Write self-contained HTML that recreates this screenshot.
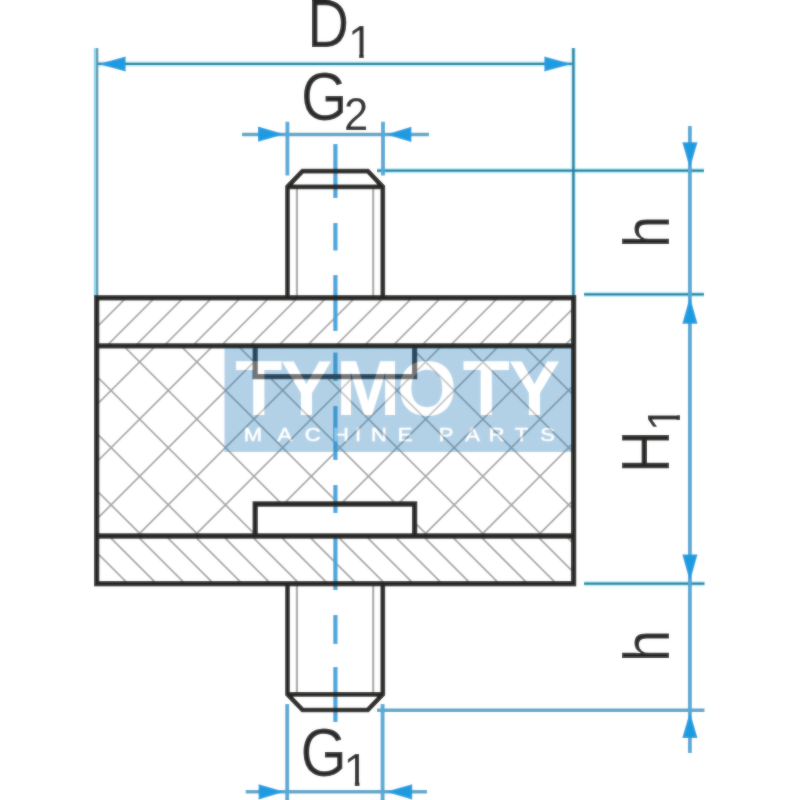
<!DOCTYPE html>
<html lang="en">
<head>
<meta charset="utf-8">
<title>D1 G2 H1 h G1 - TYMOTY machine parts</title>
<style>
html,body{margin:0;padding:0;background:#fff;}
body{width:800px;height:800px;overflow:hidden;font-family:"Liberation Sans",sans-serif;}
svg{display:block;will-change:transform;}
text{font-family:"Liberation Sans",sans-serif;}
</style>
</head>
<body>
<svg width="800" height="800" viewBox="0 0 800 800">
<defs>
<clipPath id="cTop"><rect x="96.7" y="297.8" width="476.90000000000003" height="48.0"/></clipPath>
<clipPath id="cBot"><rect x="96.7" y="536.0" width="476.90000000000003" height="47.700000000000045"/></clipPath>
<clipPath id="cRub"><path d="M96.7 345.8H255.2V376.6H414.6V345.8H573.6V536.0H414.6V504.0H255.2V536.0H96.7Z"/></clipPath>
<clipPath id="one"><path d="M0 -40H30V-5.5H16.1V3H11.4V-5.5H0Z"/></clipPath>
<filter id="soft" filterUnits="userSpaceOnUse" x="0" y="0" width="800" height="800"><feGaussianBlur stdDeviation="1"/></filter>
</defs>
<g id="art">
<rect width="800" height="800" fill="#ffffff"/>
<!-- hatching -->
<g fill="none" stroke="#a8a8a8" stroke-width="1.8">
<path clip-path="url(#cTop)" d="M-7.70 345.80L40.30 297.80M20.90 345.80L68.90 297.80M49.50 345.80L97.50 297.80M78.10 345.80L126.10 297.80M106.70 345.80L154.70 297.80M135.30 345.80L183.30 297.80M163.90 345.80L211.90 297.80M192.50 345.80L240.50 297.80M221.10 345.80L269.10 297.80M249.70 345.80L297.70 297.80M278.30 345.80L326.30 297.80M306.90 345.80L354.90 297.80M335.50 345.80L383.50 297.80M364.10 345.80L412.10 297.80M392.70 345.80L440.70 297.80M421.30 345.80L469.30 297.80M449.90 345.80L497.90 297.80M478.50 345.80L526.50 297.80M507.10 345.80L555.10 297.80M535.70 345.80L583.70 297.80M564.30 345.80L612.30 297.80M592.90 345.80L640.90 297.80M621.50 345.80L669.50 297.80"/>
<path clip-path="url(#cBot)" d="M622.92 536.00L670.62 583.70M594.36 536.00L642.06 583.70M565.80 536.00L613.50 583.70M537.24 536.00L584.94 583.70M508.68 536.00L556.38 583.70M480.12 536.00L527.82 583.70M451.56 536.00L499.26 583.70M423.00 536.00L470.70 583.70M394.44 536.00L442.14 583.70M365.88 536.00L413.58 583.70M337.32 536.00L385.02 583.70M308.76 536.00L356.46 583.70M280.20 536.00L327.90 583.70M251.64 536.00L299.34 583.70M223.08 536.00L270.78 583.70M194.52 536.00L242.22 583.70M165.96 536.00L213.66 583.70M137.40 536.00L185.10 583.70M108.84 536.00L156.54 583.70M80.28 536.00L127.98 583.70M51.72 536.00L99.42 583.70M23.16 536.00L70.86 583.70M-5.40 536.00L42.30 583.70"/>
<path clip-path="url(#cRub)" d="M-206.10 536.00L-15.90 345.80M-148.90 536.00L41.30 345.80M-91.70 536.00L98.50 345.80M-34.50 536.00L155.70 345.80M22.70 536.00L212.90 345.80M79.90 536.00L270.10 345.80M137.10 536.00L327.30 345.80M194.30 536.00L384.50 345.80M251.50 536.00L441.70 345.80M308.70 536.00L498.90 345.80M365.90 536.00L556.10 345.80M423.10 536.00L613.30 345.80M480.30 536.00L670.50 345.80M537.50 536.00L727.70 345.80M594.70 536.00L784.90 345.80M651.90 536.00L842.10 345.80M638.40 345.80L828.60 536.00M581.20 345.80L771.40 536.00M524.00 345.80L714.20 536.00M466.80 345.80L657.00 536.00M409.60 345.80L599.80 536.00M352.40 345.80L542.60 536.00M295.20 345.80L485.40 536.00M238.00 345.80L428.20 536.00M180.80 345.80L371.00 536.00M123.60 345.80L313.80 536.00M66.40 345.80L256.60 536.00M9.20 345.80L199.40 536.00M-48.00 345.80L142.20 536.00M-105.20 345.80L85.00 536.00M-162.40 345.80L27.80 536.00"/>
</g>
<!-- thread lines -->
<g fill="none" stroke="#a6a6a6" stroke-width="2.1">
<path d="M296.9 187V296M373.2 187V296M296.9 584V694M373.2 584V694"/>
</g>
<!-- dimension lines -->
<g fill="none" stroke="#bdf0fb" stroke-width="5.2">
<path d="M98 63.9H572M377 170.6H704M584 294.4H704M584 583.6H704.5M573.4 48V296"/>
</g>
<g fill="none" stroke="#1f7b9b" stroke-width="2.4">
<path d="M98 63.9H572M377 170.6H704M584 294.4H704M584 583.6H704.5M573.4 48V296"/>
</g>
<g fill="none" stroke="#5aa4c8" stroke-width="3.6">
<path d="M242 134.5H429M245.7 791.8H427M377 710.3H704.5"/>
</g>
<g fill="none" stroke="#55a8d6" stroke-width="3.9">
<path stroke="#8dd6f2" stroke-width="2.4" d="M95 48V296"/><path stroke="#5a98b0" stroke-width="2.3" d="M97.2 48V296"/>
<path d="M287.4 121.7V175.6M383 121.7V175.6"/>
<path d="M287.2 704V800M382.6 704V800"/>
<path d="M689.9 126V753"/>
</g>
<g fill="none" stroke="#45a6dd" stroke-width="4.3">
<path d="M335.4 144V198M335.4 223V250.5M335.4 275V331M335.4 352.5V381M335.4 406V460M335.4 485V513M335.4 537.5V590M335.4 615V644M335.4 667V722"/>
</g>
<g fill="#1c9be0" stroke="none"><polygon points="98.60,64.00 125.60,56.40 125.60,71.60"/><polygon points="571.40,64.00 544.40,71.60 544.40,56.40"/><polygon points="284.40,134.20 258.00,141.80 258.00,126.60"/><polygon points="386.00,134.40 411.40,126.80 411.40,142.00"/><polygon points="284.40,791.80 258.60,799.40 258.60,784.20"/><polygon points="385.60,791.80 412.20,784.20 412.20,799.40"/><polygon points="689.90,168.60 682.30,142.20 697.50,142.20"/><polygon points="689.90,296.80 697.50,323.80 682.30,323.80"/><polygon points="689.90,581.60 682.30,554.60 697.50,554.60"/><polygon points="689.90,712.00 697.50,738.00 682.30,738.00"/></g>
<!-- outlines -->
<g fill="none" stroke="#272625" stroke-width="5.3" stroke-linejoin="miter">
<rect x="96.7" y="297.8" width="476.90000000000003" height="285.90000000000003"/>
<path d="M96.7 345.8H573.6M96.7 536.0H573.6"/>
<path d="M255.2 345.8V376.6H414.6V345.8"/>
<path d="M255.2 536.0V504.0H414.6V536.0"/>
<path stroke-width="4.7" d="M287.5 297.8V186.8L302.5 171.1H367.8L382.8 186.8V297.8M287.5 186.8H382.8"/>
<path stroke-width="4.7" d="M287.5 583.7V694.4L302.5 710H367.8L382.8 694.4V583.7M287.5 694.4H382.8"/>
</g>
<!-- watermark -->
<g opacity="0.36">
<rect x="224.5" y="348" width="347" height="104" fill="#2c81bd"/>
<text x="235.2 280.8 335.9 397 462.7 508.7" y="414.5" font-size="77" font-weight="700" fill="#ffffff">TYMOTY</text>
<text transform="scale(1.22 1)" x="199.8 227.4 249.9 273 290.9 304.2 326 342 359.7 381.3 400.6 422 442.8" y="441.4" font-size="18" fill="#ffffff" stroke="#ffffff" stroke-width="0.5">MACHINE PARTS</text>
</g>
<!-- labels -->
<g fill="#272625">
<text transform="translate(307.2 46.8) scale(0.84 1)" font-size="69">D</text>
<text transform="translate(347.9 58.3) scale(0.985 1)" font-size="46.5" clip-path="url(#one)">1</text>
<text transform="translate(301 119.5) scale(0.864 1)" font-size="69">G</text>
<text transform="translate(344 129.8) scale(0.95 1)" font-size="46">2</text>
<text transform="translate(300.5 775.5) scale(0.861 1)" font-size="69">G</text>
<text transform="translate(343.6 786.4) scale(0.985 1)" font-size="46.5" clip-path="url(#one)">1</text>
<text transform="translate(668.8 248) rotate(-90) scale(0.9 1)" font-size="64.5">h</text>
<text transform="translate(668.8 662) rotate(-90) scale(0.9 1)" font-size="64.5">h</text>
<text transform="translate(668.8 472.9) rotate(-90) scale(0.87 1)" font-size="68">H</text>
<text transform="translate(680.3 431.3) rotate(-90)" font-size="46.5" clip-path="url(#one)">1</text>
</g>
</g>
<use href="#art" filter="url(#soft)" opacity="0.5"/>
</svg>
</body>
</html>
